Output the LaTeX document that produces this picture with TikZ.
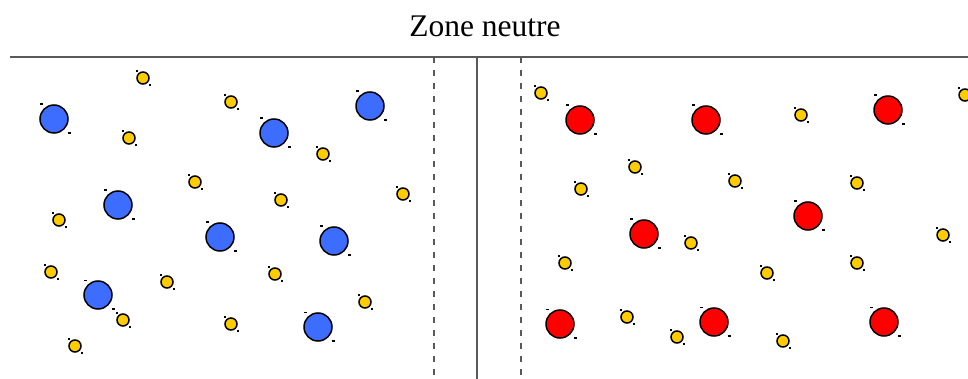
\documentclass[tikz,border=0pt]{standalone}
\usepackage{fontspec}
\setmainfont{Liberation Serif}
\usetikzlibrary{calc}
\definecolor{ionblue}{HTML}{3D6DFF}
\definecolor{ionred}{HTML}{FF0000}
\definecolor{ionyellow}{HTML}{FFCC00}
\definecolor{wallgray}{HTML}{595959}
\begin{document}
\begin{tikzpicture}[x=1pt,y=-1pt,
  bigion/.style={circle, draw=black, line width=1.5pt, minimum size=28pt, inner sep=0pt},
  blueion/.style={bigion, fill=ionblue},
  redion/.style={bigion, fill=ionred},
  smallion/.style={circle, draw=black, line width=1.5pt, fill=ionyellow, minimum size=12pt, inner sep=0pt},
  wall/.style={draw=wallgray, line width=1.1pt},
  zoneedge/.style={draw=wallgray, line width=1.1pt, dash pattern=on 6pt off 7pt},
  tick/.style={fill=black}]
\useasboundingbox (0,0) rectangle (968,379);

% title
\node[font=\fontsize{31.5}{36}\selectfont, anchor=base] (title) at (485,37) {Zone neutre};

% walls and neutral zone
\coordinate (wl) at (10,57);
\coordinate (wr) at (968,57);
\coordinate (ct) at (477,57);
\coordinate (cb) at (477,379);
\coordinate (zlt) at (434,57);
\coordinate (zlb) at (434,379);
\coordinate (zrt) at (521,57);
\coordinate (zrb) at (521,379);
\draw[wall] (wl) -- (wr);
\draw[wall] (ct) -- (cb);
\draw[zoneedge] (zlt) -- (zlb);
\draw[zoneedge] (zrt) -- (zrb);

% large blue ions
\foreach \x/\y [count=\i] in {54/119, 274/133, 370/106, 118/205, 220/237, 334/241, 98/295, 318/327}{
  \node[blueion] (b\i) at (\x,\y) {};
  \fill[tick] ($(\x,\y)+(-14.5,-15.5)$) rectangle ++(3,1.8);
  \fill[tick] ($(\x,\y)+(13.5,13)$) rectangle ++(3,1.8);
}

% large red ions
\foreach \x/\y [count=\i] in {580/120, 706/120, 888/110, 644/234, 808/216, 560/324, 714/322, 884/322}{
  \node[redion] (r\i) at (\x,\y) {};
  \fill[tick] ($(\x,\y)+(-14.5,-15.5)$) rectangle ++(3,1.8);
  \fill[tick] ($(\x,\y)+(13.5,13)$) rectangle ++(3,1.8);
}

% small yellow ions
\foreach \x/\y [count=\i] in {
  143/78, 231/102, 129/138, 323/154, 195/182, 281/200, 403/194, 59/220,
  51/272, 167/282, 275/274, 365/302, 123/320, 231/324, 75/346,
  541/93, 801/115, 965/95, 635/167, 581/189, 735/181, 857/183, 691/243,
  943/235, 565/263, 767/273, 857/263, 627/317, 677/337, 783/341}{
  \node[smallion] (y\i) at (\x,\y) {};
  \fill[tick] ($(\x,\y)+(-7.5,-8)$) rectangle ++(2.2,1.6);
  \fill[tick] ($(\x,\y)+(6,6)$) rectangle ++(2.2,1.6);
}
\end{tikzpicture}
\end{document}
